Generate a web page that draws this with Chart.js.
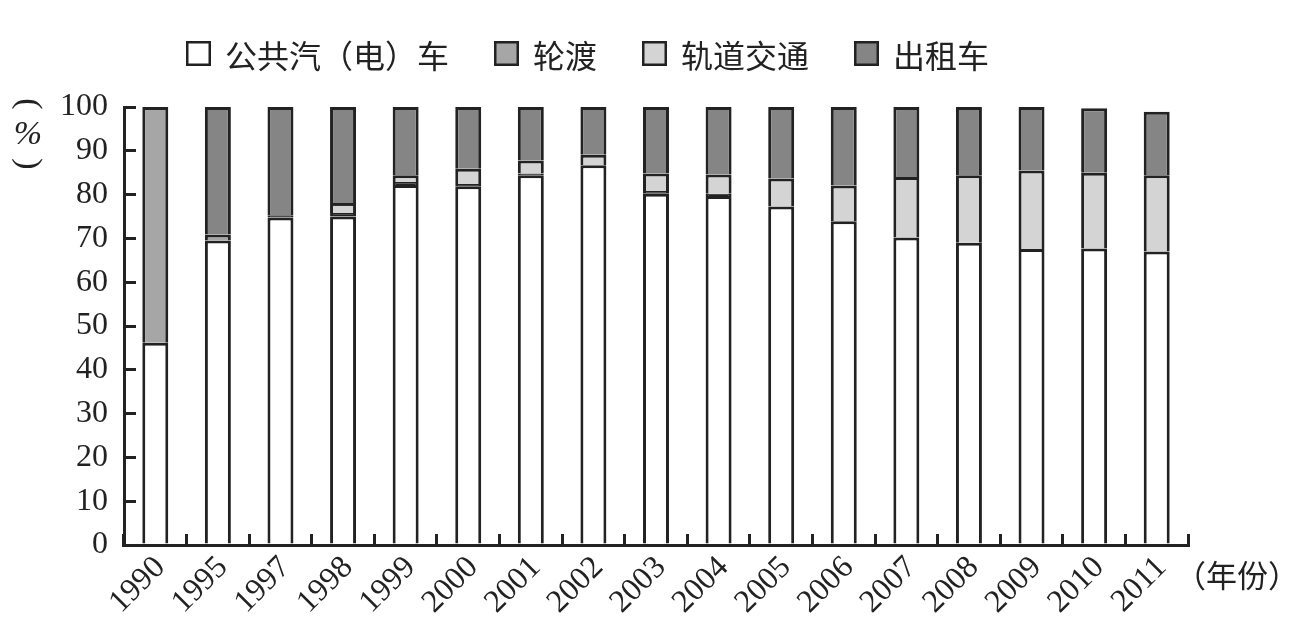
<!DOCTYPE html>
<html>
<head>
<meta charset="utf-8">
<script src="https://cdn.jsdelivr.net/npm/chart.js@4/dist/chart.umd.min.js"></script>
<style>
  html, body { margin: 0; padding: 0; background: #fff; }
  #wrap { width: 1292px; height: 630px; }
</style>
</head>
<body>
<div id="wrap"><canvas id="chart" width="1292" height="630"></canvas></div>
<script>
// share of public transport trips (%)
const years = ['1990', '1995', '1997', '1998', '1999', '2000', '2001', '2002', '2003',
  '2004', '2005', '2006', '2007', '2008', '2009', '2010', '2011'];
const bus = [46.2, 69.5, 74.8, 75.0, 82.2, 81.9, 84.4, 86.7, 80.2, 79.7, 77.3, 73.9, 70.2, 69.0, 67.6, 67.7, 67.0];
const ferry = [53.8, 1.4, 0.5, 0.8, 0.7, 0.5, 0.4, null, 0.6, 0.5, null, null, null, null, null, null, null];
const rail = [null, null, null, 2.3, 1.5, 3.5, 3.0, 2.4, 4.0, 4.4, 6.4, 8.2, 13.8, 15.4, 17.9, 17.3, 17.4];
const taxi = [null, 29.1, 24.7, 21.9, 15.6, 14.1, 12.2, 10.9, 15.2, 15.4, 16.3, 17.9, 16.0, 15.6, 14.5, 14.7, 14.5];
const seriesNames = ['公共汽（电）车', '轮渡', '轨道交通', '出租车'];
const yTicks = [0, 10, 20, 30, 40, 50, 60, 70, 80, 90, 100];

const INK = '#222';
const fills = ['#ffffff', '#a6a6a6', '#d4d4d4', '#858585'];
const numFont = { family: '"Liberation Serif", "DejaVu Serif", serif', size: 32 };
const cjk = '"Noto Sans CJK SC", "Noto Sans", sans-serif';

// legend, y unit and x unit are drawn by hand so they sit where the original has them
const decor = {
  id: 'decor',
  afterDraw(chart) {
    const ctx = chart.ctx;
    const area = chart.chartArea;
    ctx.save();
    ctx.font = '32px ' + cjk;
    ctx.textBaseline = 'middle';
    ctx.textAlign = 'left';
    let x = 186;
    const top = 41, box = 25;
    chart.data.datasets.forEach((ds, i) => {
      ctx.fillStyle = fills[i];
      ctx.fillRect(x, top, box, box);
      ctx.lineWidth = 2.5;
      ctx.strokeStyle = INK;
      ctx.strokeRect(x + 1.25, top + 1.25, box - 2.5, box - 2.5);
      ctx.fillStyle = INK;
      ctx.fillText(ds.label, x + box + 14, top + box / 2 + 2);
      x += box + 14 + ctx.measureText(ds.label).width + 45;
    });

    // (%) written vertically
    const cx = 28;
    ctx.textAlign = 'center';
    ctx.font = '34px ' + numFont.family;
    ['(', ')'].forEach((p, i) => {
      ctx.save();
      ctx.translate(cx, i === 0 ? area.top - 3 : area.top + 57);
      ctx.rotate(Math.PI / 2);
      ctx.fillText(p, 0, 0);
      ctx.restore();
    });
    ctx.font = 'italic 34px ' + numFont.family;
    ctx.fillText('%', cx, area.top + 28);

    // unit after last year label
    ctx.textAlign = 'left';
    ctx.font = '31px ' + cjk;
    ctx.fillText('（年份）', area.right - 13, area.bottom + 30);
    ctx.restore();
  }
};

const datasets = [bus, ferry, rail, taxi].map((vals, i) => ({
  label: seriesNames[i],
  data: vals,
  // very thin slices print as a solid dark band in the original
  backgroundColor: c => (c.raw !== null && c.raw < 1 ? INK : fills[i]),
  borderColor: INK,
  borderWidth: 3,
  barPercentage: 0.415,
  categoryPercentage: 1
}));

new Chart(document.getElementById('chart'), {
  type: 'bar',
  data: { labels: years, datasets },
  options: {
    responsive: false,
    animation: false,
    devicePixelRatio: 1,
    layout: { padding: { top: 107, right: 104, bottom: 0, left: 0 } },
    plugins: { legend: { display: false }, tooltip: { enabled: false } },
    scales: {
      x: {
        stacked: true,
        grid: { offset: true, drawOnChartArea: false, drawTicks: true, tickLength: -11, color: INK, lineWidth: 3 },
        border: { color: INK, width: 3 },
        ticks: { color: INK, font: numFont, minRotation: 45, maxRotation: 45, autoSkip: false, padding: 15, labelOffset: 5 },
        afterFit(scale) { scale.height = 85; }
      },
      y: {
        stacked: true,
        min: 0,
        max: 100,
        afterBuildTicks(scale) { scale.ticks = yTicks.map(v => ({ value: v })); },
        grid: { drawOnChartArea: false, drawTicks: true, tickLength: -12, color: INK, lineWidth: 3 },
        border: { color: INK, width: 3 },
        ticks: { color: INK, font: numFont, padding: 28 },
        afterFit(scale) { scale.width = 124; }
      }
    }
  },
  plugins: [decor]
});
</script>
</body>
</html>
